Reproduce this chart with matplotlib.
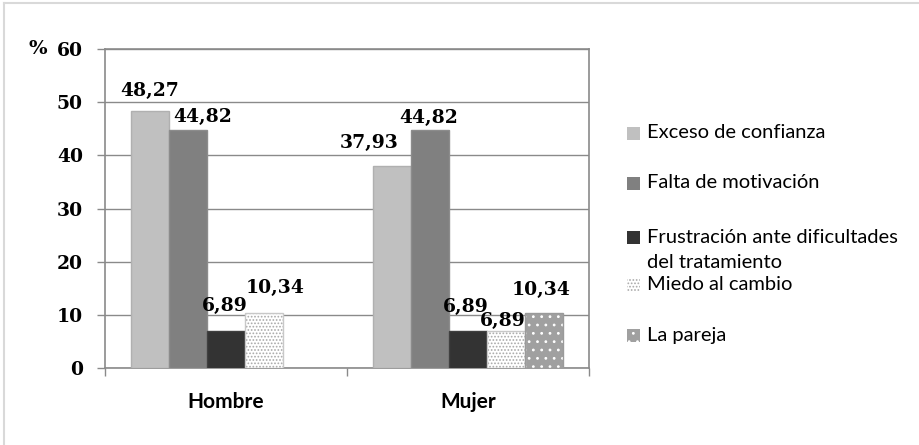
import matplotlib
matplotlib.use("Agg")
import matplotlib.pyplot as plt
from matplotlib.patches import Rectangle
from matplotlib.lines import Line2D
import numpy as np

# Data
categories = ["Hombre", "Mujer"]
series_names = [
    "Exceso de confianza",
    "Falta de motivación",
    "Frustración ante dificultades\ndel tratamiento",
    "Miedo al cambio",
    "La pareja",
]
hombre_values = [48.27, 44.82, 6.89, 10.34, 0.0]
mujer_values = [37.93, 44.82, 6.89, 6.89, 10.34]
y_ticks = [0, 10, 20, 30, 40, 50, 60]

# Styling
fills = ["#c0c0c0", "#808080", "#333333", "#ffffff", "#a0a0a0"]
edges = ["#b0b0b0", "#8c8c8c", "#404040", "#c8c8c8", "#9a9a9a"]
hatches = [None, None, None, ".....", ".."]
hatch_colors = [None, None, None, "#a8a8a8", "#ffffff"]

# Label nudges in pixels (dx, dy), one per bar, group by group
label_nudges = [
    [(0, 20), (15, 13), (-1, 25), (11, 25), None],
    [(-23, 23), (-1, 12), (-2, 24), (-3, 10), (-3, 23)],
]

plt.rcParams["hatch.linewidth"] = 0.8

W, H = 920, 445
fig = plt.figure(figsize=(W / 100, H / 100), dpi=100)

def fx(x):
    return x / W

def fy(y):
    return 1 - y / H

ax_left, ax_right, ax_top, ax_bottom = 105, 589, 49, 368
ax = fig.add_axes([fx(ax_left), fy(ax_bottom), (ax_right - ax_left) / W,
                   (ax_bottom - ax_top) / H])

grid_col = "#8a8a8a"
num_font = dict(family="DejaVu Serif", weight="bold")
txt_font = ["Lato", "DejaVu Sans"]

x = np.arange(len(categories))
bw = 0.157
groups = [hombre_values, mujer_values]
n = len(series_names)

for s in range(n):
    vals = [g[s] for g in groups]
    pos = x + (s - (n - 1) / 2) * bw
    if hatches[s]:
        ax.bar(pos, vals, bw, color=fills[s], edgecolor=hatch_colors[s],
               hatch=hatches[s], linewidth=0, zorder=3)
        ax.bar(pos, vals, bw, fill=False, edgecolor=edges[s], linewidth=1.0,
               zorder=4)
    else:
        ax.bar(pos, vals, bw, color=fills[s], edgecolor=edges[s],
               linewidth=1.0, zorder=3)
    for gi, v in enumerate(vals):
        nudge = label_nudges[gi][s]
        if nudge is None or v == 0:
            continue
        ax.annotate(f"{v:.2f}".replace(".", ","), (pos[gi], v),
                    xytext=nudge, textcoords="offset pixels",
                    ha="center", va="center", fontsize=13.5, zorder=5,
                    **num_font)

ax.set_xlim(-0.5, len(categories) - 0.5)
ax.set_ylim(0, 60)
ax.set_yticks(y_ticks)
ax.set_yticklabels([str(t) for t in y_ticks], fontsize=13.5, **num_font)
ax.yaxis.grid(True, color=grid_col, linewidth=1.0, zorder=0)
ax.set_axisbelow(True)

ax.set_xticks([-0.5, 0.5, 1.5])
ax.set_xticklabels(["", "", ""])
ax.set_xticks(x, minor=True)
ax.set_xticklabels(categories, minor=True, fontsize=15, fontweight="bold",
                   family=txt_font)
ax.tick_params(axis="x", which="major", length=6, color=grid_col, width=1)
ax.tick_params(axis="x", which="minor", length=0, pad=17)
ax.tick_params(axis="y", length=6, color=grid_col, width=1, pad=10)

for sp in ax.spines.values():
    sp.set_color(grid_col)
    sp.set_linewidth(1.2)

fig.text(fx(38), fy(49), "%", ha="center", va="center", fontsize=14,
         **num_font)

# Legend drawn by hand; the two-line entry gets one row per line
legend_rows = [133, 183, 237, 285, 335]
line_gap = 25
for s, yrow in enumerate(legend_rows):
    sq = 13
    r = Rectangle((fx(627), fy(yrow + sq / 2)), sq / W, sq / H,
                  transform=fig.transFigure, facecolor=fills[s],
                  edgecolor=hatch_colors[s] if hatches[s] else edges[s],
                  hatch=hatches[s], linewidth=0)
    fig.add_artist(r)
    for k, line in enumerate(series_names[s].split("\n")):
        fig.text(fx(647), fy(yrow + k * line_gap), line, ha="left",
                 va="center", fontsize=14.5, family=txt_font)

# Outer chart frame (left and top edges)
fig.add_artist(Line2D([fx(4), fx(4)], [fy(3), fy(H)], transform=fig.transFigure,
                      color="#d9d9d9", linewidth=1.5))
fig.add_artist(Line2D([fx(4), fx(W)], [fy(3), fy(3)], transform=fig.transFigure,
                      color="#d9d9d9", linewidth=1.5))

fig.savefig("out.png", dpi=100)
